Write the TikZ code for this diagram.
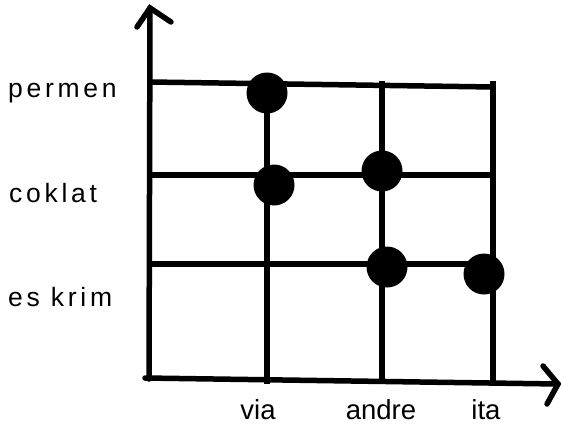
\documentclass[tikz,border=0pt]{standalone}
\usepackage{fontspec}
\setmainfont{Liberation Sans}
\newfontfamily\spacedfont[LetterSpace=14]{Liberation Sans}
\begin{document}
\begin{tikzpicture}[x=1pt,y=-1pt,
  gridline/.style={line width=5.5pt,line cap=butt},
  axisline/.style={line width=5.5pt,line cap=round,line join=miter},
  dot/.style={circle,fill=black,minimum size=41pt,inner sep=0pt},
  rowlabel/.style={anchor=base west,inner sep=0pt,font=\fontsize{26.5}{30}\selectfont\spacedfont},
  collabel/.style={anchor=base,inner sep=0pt,font=\fontsize{27.5}{32}\selectfont}]
\useasboundingbox (0,0) rectangle (561,425);

% axes
\coordinate (ybot) at (149,379);
\coordinate (ytop) at (150,8);
\coordinate (xleft) at (145,378);
\coordinate (xright) at (558,384);
\draw[axisline] (ybot) -- (ytop);
\draw[axisline] (xleft) -- (xright);
\draw[axisline] (137,27) -- (ytop) -- (171,22);
\draw[axisline] (543,366) -- (xright) -- (547,404);

% grid rows
\coordinate (r1a) at (150,82);  \coordinate (r1b) at (493,87);
\coordinate (r2a) at (147,175); \coordinate (r2b) at (493,175);
\coordinate (r3a) at (147,264); \coordinate (r3b) at (493,264);
\draw[gridline] (r1a) -- (r1b);
\draw[gridline] (r2a) -- (r2b);
\draw[gridline] (r3a) -- (r3b);

% grid columns
\coordinate (c1a) at (267,93);  \coordinate (c1b) at (267,384);
\coordinate (c2a) at (382,81);  \coordinate (c2b) at (382,382);
\coordinate (c3a) at (493,81);  \coordinate (c3b) at (493,383);
\draw[gridline] (c1a) -- (c1b);
\draw[gridline] (c2a) -- (c2b);
\draw[gridline] (c3a) -- (c3b);

% marks
\node[dot] (d1) at (267,93) {};
\node[dot] (d2) at (274,185) {};
\node[dot] (d3) at (382,171) {};
\node[dot] (d4) at (387,267) {};
\node[dot] (d5) at (484,274) {};

% row labels
\node[rowlabel] (lp) at (8,97) {permen};
\node[rowlabel] (lc) at (9,202) {coklat};
\node[rowlabel] (le) at (8,306) {es krim};

% column labels
\node[collabel] (lv) at (258,419) {via};
\node[collabel] (la) at (381,419) {andre};
\node[collabel] (li) at (486,419) {ita};
\end{tikzpicture}
\end{document}
